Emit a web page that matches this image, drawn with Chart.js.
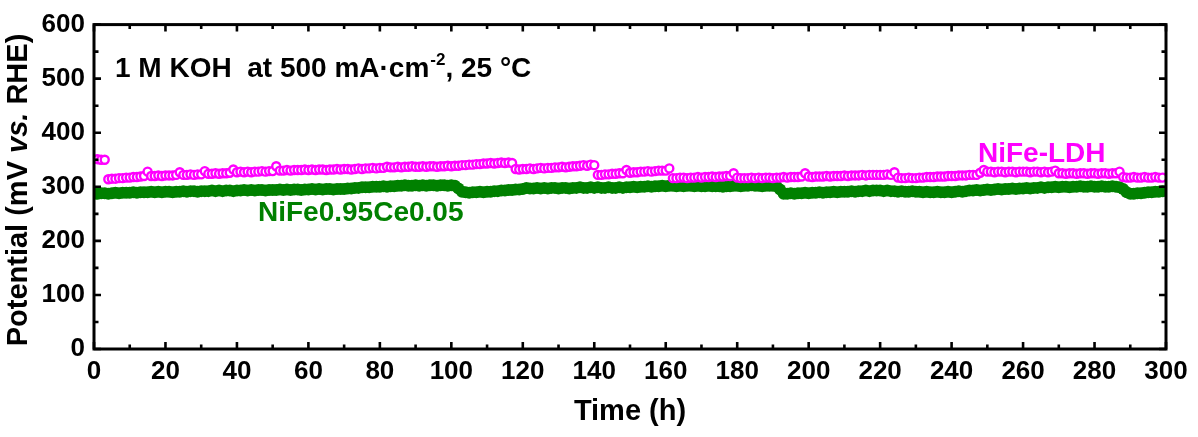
<!DOCTYPE html>
<html>
<head>
<meta charset="utf-8">
<script src="https://cdn.jsdelivr.net/npm/chart.js@4"></script>
<style>
  html, body { margin: 0; padding: 0; background: #ffffff; }
  canvas { display: block; }
</style>
</head>
<body>
<canvas id="c" width="1198" height="437"></canvas>
<script>
// ---- data ----
// NiFe-LDH potential (mV vs RHE), one reading per hour, starting at t = 1 h
const ldhStartHour = 1;
const ldhPotential = [
  351, 350, 350, 314, 315, 315, 316, 316, 317, 317,
  318, 318, 319, 320, 328, 320, 320, 321, 320, 321,
  321, 321, 322, 327, 322, 322, 323, 322, 323, 323,
  329, 324, 324, 325, 324, 325, 325, 326, 332, 327,
  328, 327, 328, 327, 328, 328, 329, 328, 329, 329,
  338, 330, 330, 331, 330, 331, 331, 331, 332, 331,
  332, 331, 332, 332, 331, 332, 332, 333, 332, 333,
  333, 332, 333, 334, 333, 334, 334, 335, 334, 335,
  335, 337, 336, 336, 337, 336, 337, 337, 338, 337,
  337, 338, 337, 338, 338, 337, 338, 338, 339, 338,
  339, 339, 340, 340, 341, 341, 342, 342, 343, 343,
  344, 343, 344, 345, 344, 345, 344, 333, 332, 333,
  333, 334, 333, 334, 335, 334, 335, 335, 336, 336,
  337, 336, 337, 338, 338, 339, 340, 339, 341, 340,
  322, 322, 323, 323, 324, 324, 325, 325, 331, 326,
  327, 327, 328, 328, 329, 328, 329, 330, 330, 330,
  334, 316, 316, 317, 317, 316, 317, 317, 318, 317,
  318, 318, 319, 318, 319, 319, 320, 320, 325, 317,
  316, 316, 316, 317, 316, 317, 316, 317, 317, 316,
  317, 317, 318, 317, 318, 318, 318, 319, 325, 319,
  318, 319, 319, 319, 320, 319, 320, 320, 320, 321,
  320, 321, 321, 321, 322, 321, 322, 322, 322, 322,
  322, 323, 322, 327, 317, 316, 316, 317, 316, 316,
  317, 317, 318, 318, 318, 319, 319, 319, 320, 320,
  320, 321, 321, 321, 322, 322, 322, 326, 331, 328,
  328, 327, 328, 328, 327, 328, 328, 327, 328, 328,
  328, 327, 328, 328, 327, 328, 327, 328, 330, 325,
  325, 324, 325, 325, 324, 325, 325, 324, 325, 325,
  324, 325, 325, 324, 325, 325, 328, 318, 317, 317,
  318, 317, 317, 318, 317, 317, 318, 317, 317
];
// NiFe0.95Ce0.05 potential (mV vs RHE), one reading per hour, starting at t = 0 h
const ceStartHour = 0;
const cePotential = [
  288, 287, 288, 288, 287, 288, 289, 288, 289, 289,
  289, 290, 289, 290, 290, 290, 291, 290, 291, 290,
  291, 291, 290, 291, 291, 292, 291, 292, 292, 291,
  292, 292, 292, 293, 292, 293, 292, 293, 293, 292,
  293, 293, 294, 293, 294, 293, 294, 294, 293, 294,
  294, 294, 295, 294, 295, 294, 295, 295, 294, 295,
  295, 296, 295, 296, 295, 296, 296, 295, 296, 296,
  296, 297, 297, 298, 298, 299, 299, 299, 300, 300,
  300, 301, 300, 301, 301, 302, 302, 303, 302, 302,
  303, 302, 303, 302, 303, 303, 302, 303, 303, 302,
  303, 302, 297, 291, 290, 289, 290, 290, 291, 290,
  291, 291, 292, 292, 293, 293, 294, 294, 295, 295,
  296, 298, 297, 297, 298, 297, 298, 297, 298, 298,
  297, 298, 298, 297, 298, 298, 299, 298, 298, 299,
  298, 299, 298, 298, 299, 298, 298, 299, 298, 299,
  299, 300, 299, 300, 300, 301, 300, 301, 301, 302,
  301, 302, 302, 301, 302, 301, 302, 302, 301, 302,
  301, 301, 302, 301, 301, 301, 300, 301, 301, 302,
  302, 301, 302, 302, 303, 302, 302, 301, 302, 302,
  302, 301, 295, 287, 287, 288, 287, 288, 288, 289,
  288, 289, 289, 290, 289, 290, 290, 291, 290, 291,
  291, 291, 292, 291, 292, 292, 293, 292, 293, 293,
  293, 292, 293, 292, 292, 291, 292, 291, 291, 292,
  291, 291, 290, 291, 290, 290, 291, 290, 290, 291,
  290, 291, 292, 291, 292, 293, 293, 294, 293, 294,
  295, 294, 295, 296, 295, 296, 296, 297, 296, 297,
  297, 298, 297, 298, 298, 299, 298, 299, 299, 300,
  299, 300, 300, 299, 300, 300, 301, 300, 300, 301,
  300, 300, 301, 300, 300, 301, 300, 299, 296, 290,
  287, 287, 288, 288, 289, 290, 290, 291, 291, 292
];
const xMajorTicks = [0, 20, 40, 60, 80, 100, 120, 140, 160, 180, 200, 220, 240, 260, 280, 300];
const xMinorTicks = [10, 30, 50, 70, 90, 110, 130, 150, 170, 190, 210, 230, 250, 270, 290];
const yMajorTicks = [0, 100, 200, 300, 400, 500, 600];
const yMinorTicks = [50, 150, 250, 350, 450, 550];
const seriesNames = ['NiFe-LDH', 'NiFe0.95Ce0.05'];
const xTitle = 'Time (h)';
const yTitleParts = ['Potential (mV ', 'vs.', ' RHE)'];
const noteParts = ['1 M KOH  at 500 mA\u00B7cm', '-2', ', 25 \u00B0C'];

// ---- build points ----
const ldhPoints = ldhPotential.map((v, i) => ({ x: ldhStartHour + i, y: v }));
const cePoints = cePotential.map((v, i) => ({ x: ceStartHour + i, y: v }));

const FONT = '"Liberation Sans", Arial, Helvetica, sans-serif';
const PINK = '#FF00FF';
const GREEN = '#008000';

const decor = {
  id: 'decor',
  afterDraw(chart) {
    const ctx = chart.ctx;
    const a = chart.chartArea;
    const xs = chart.scales.x, ys = chart.scales.y;
    ctx.save();
    // frame
    ctx.strokeStyle = '#000';
    ctx.lineWidth = 3;
    ctx.strokeRect(a.left, a.top, a.right - a.left, a.bottom - a.top);
    // inward ticks
    ctx.lineWidth = 2.6;
    ctx.beginPath();
    const tickX = (v, len) => {
      const px = xs.getPixelForValue(v);
      ctx.moveTo(px, a.bottom); ctx.lineTo(px, a.bottom - len);
      ctx.moveTo(px, a.top); ctx.lineTo(px, a.top + len);
    };
    const tickY = (v, len) => {
      const py = ys.getPixelForValue(v);
      ctx.moveTo(a.left, py); ctx.lineTo(a.left + len, py);
      ctx.moveTo(a.right, py); ctx.lineTo(a.right - len, py);
    };
    xMajorTicks.forEach(v => tickX(v, 7));
    xMinorTicks.forEach(v => tickX(v, 4.5));
    yMajorTicks.forEach(v => tickY(v, 7));
    yMinorTicks.forEach(v => tickY(v, 4.5));
    ctx.stroke();

    // axis titles
    ctx.fillStyle = '#000';
    ctx.textBaseline = 'middle';
    ctx.font = 'bold 29px ' + FONT;
    ctx.textAlign = 'center';
    ctx.fillText(xTitle, (a.left + a.right) / 2, 412);

    // y title with italic "vs."
    ctx.save();
    ctx.translate(19, 190);
    ctx.rotate(-Math.PI / 2);
    const fonts = ['bold 29px ' + FONT, 'italic bold 29px ' + FONT, 'bold 29px ' + FONT];
    let widths = yTitleParts.map((t, i) => { ctx.font = fonts[i]; return ctx.measureText(t).width; });
    let total = widths.reduce((s, w) => s + w, 0);
    let x0 = -total / 2;
    ctx.textAlign = 'left';
    yTitleParts.forEach((t, i) => { ctx.font = fonts[i]; ctx.fillText(t, x0, 0); x0 += widths[i]; });
    ctx.restore();

    // condition note with superscript
    ctx.textAlign = 'left';
    ctx.textBaseline = 'alphabetic';
    let nx = 115, base = 77;
    ctx.font = 'bold 28px ' + FONT;
    ctx.fillText(noteParts[0], nx, base);
    nx += ctx.measureText(noteParts[0]).width;
    ctx.font = 'bold 17px ' + FONT;
    ctx.fillText(noteParts[1], nx + 1, base - 12);
    nx += ctx.measureText(noteParts[1]).width + 1;
    ctx.font = 'bold 28px ' + FONT;
    ctx.fillText(noteParts[2], nx, base);

    // series labels
    ctx.font = 'bold 28px ' + FONT;
    ctx.fillStyle = GREEN;
    ctx.fillText(seriesNames[1], 258, 221);
    ctx.fillStyle = PINK;
    ctx.fillText(seriesNames[0], 978, 162);
    ctx.restore();
  }
};

new Chart(document.getElementById('c'), {
  type: 'scatter',
  data: {
    datasets: [
      {
        label: seriesNames[0],
        data: ldhPoints,
        order: 0,
        showLine: false,
        pointStyle: 'circle',
        pointRadius: 4,
        pointBorderWidth: 2.4,
        pointBorderColor: PINK,
        pointBackgroundColor: '#FFFFFF'
      },
      {
        label: seriesNames[1],
        data: cePoints,
        order: 1,
        showLine: false,
        pointStyle: 'circle',
        pointRadius: 6,
        pointBorderWidth: 0,
        pointBorderColor: GREEN,
        pointBackgroundColor: GREEN
      }
    ]
  },
  options: {
    responsive: false,
    animation: false,
    devicePixelRatio: 1,
    layout: { padding: { left: 0, top: 19, right: 32, bottom: 0 } },
    plugins: { legend: { display: false }, tooltip: { enabled: false } },
    scales: {
      x: {
        type: 'linear', min: 0, max: 300,
        grid: { display: false, drawTicks: false },
        border: { display: false },
        ticks: {
          stepSize: 20, color: '#000', padding: 7,
          font: { family: FONT, size: 26, weight: 'bold' },
          maxRotation: 0, autoSkip: false
        },
        afterFit(s) { s.height = 88; }
      },
      y: {
        type: 'linear', min: 0, max: 600,
        grid: { display: false, drawTicks: false },
        border: { display: false },
        ticks: {
          stepSize: 100, color: '#000', padding: 9,
          font: { family: FONT, size: 26, weight: 'bold' }
        },
        afterFit(s) { s.width = 94; }
      }
    }
  },
  plugins: [decor]
});
</script>
</body>
</html>
